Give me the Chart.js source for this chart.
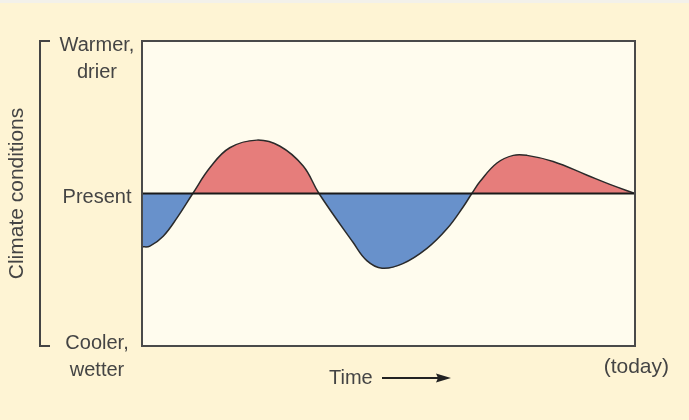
<!DOCTYPE html>
<html>
<head>
<meta charset="utf-8">
<script src="https://cdn.jsdelivr.net/npm/chart.js@4"></script>
<style>
  body { margin: 0; background: #fef4d4; }
  canvas { display: block; }
</style>
</head>
<body>
<canvas id="myChart" width="689" height="420"></canvas>
<script>
// time runs 0 -> 100 (today), climate -1 (cooler, wetter) -> 1 (warmer, drier)
const timeValues = [0, 1.6, 4.3, 7.1, 10.3, 13.8, 17.8, 23.3, 28.0, 32.7, 35.9,
  42.8, 45.6, 48.7, 52.9, 57.8, 61.9, 65.1, 66.9,
  68.6, 72.0, 75.3, 78.1, 83.4, 90.3, 94.9, 100];
const climateValues = [-0.35, -0.345, -0.28, -0.16, 0, 0.17, 0.30, 0.35, 0.31, 0.18, 0,
  -0.32, -0.44, -0.49, -0.46, -0.36, -0.23, -0.09, 0,
  0.08, 0.20, 0.25, 0.25, 0.21, 0.12, 0.06, 0];

const yTickValues = [1, 0, -1];
const yTickLabels = [["Warmer,", "drier"], ["Present"], ["Cooler,", "wetter"]];
const yAxisTitle = "Climate conditions";
const xAxisTitle = "Time";
const xEndLabel = "(today)";

const curve = timeValues.map((t, i) => ({x: t, y: climateValues[i]}));
const presentLine = [{x: timeValues[0], y: 0}, {x: timeValues[timeValues.length - 1], y: 0}];

const FONT = '"Liberation Sans", Helvetica, Arial, sans-serif';
const TEXT = '#444';

// backgrounds, frame and all the text round the plot
const decor = {
  id: 'decor',
  beforeDraw(chart) {
    const ctx = chart.ctx, a = chart.chartArea;
    ctx.save();
    ctx.fillStyle = '#fef4d4';
    ctx.fillRect(0, 0, chart.width, chart.height);
    ctx.fillStyle = '#f3f1ea';
    ctx.fillRect(0, 0, chart.width, 3);
    ctx.fillStyle = '#fffcee';
    ctx.fillRect(a.left, a.top, a.right - a.left, a.bottom - a.top);
    ctx.restore();
  },
  afterDraw(chart) {
    const ctx = chart.ctx, a = chart.chartArea;
    const ys = chart.scales.y;
    ctx.save();
    // frame
    ctx.strokeStyle = '#4a4a4a';
    ctx.lineWidth = 2;
    ctx.strokeRect(a.left, a.top, a.right - a.left, a.bottom - a.top);

    // bracket on the left
    ctx.strokeStyle = '#444';
    ctx.lineWidth = 2;
    ctx.beginPath();
    ctx.moveTo(50, a.top);
    ctx.lineTo(40, a.top);
    ctx.lineTo(40, a.bottom);
    ctx.lineTo(50, a.bottom);
    ctx.stroke();

    ctx.fillStyle = TEXT;
    ctx.font = '20px ' + FONT;
    ctx.textAlign = 'center';
    ctx.textBaseline = 'alphabetic';
    // first-line offsets from the tick pixel
    const offs = [10, 9.5, 3];
    yTickValues.forEach((v, i) => {
      const py = ys.getPixelForValue(v);
      yTickLabels[i].forEach((line, j) => {
        ctx.fillText(line, 97, py + offs[i] + j * 27);
      });
    });

    // rotated axis title
    ctx.save();
    ctx.translate(23, (a.top + a.bottom) / 2);
    ctx.rotate(-Math.PI / 2);
    ctx.font = '21px ' + FONT;
    ctx.fillText(yAxisTitle, 0, 0);
    ctx.restore();

    // time label with arrow
    ctx.textAlign = 'left';
    ctx.fillText(xAxisTitle, 329, 384);
    ctx.strokeStyle = '#222';
    ctx.lineWidth = 2;
    ctx.beginPath();
    ctx.moveTo(382, 378);
    ctx.lineTo(440, 378);
    ctx.stroke();
    ctx.fillStyle = '#222';
    ctx.beginPath();
    ctx.moveTo(451, 378);
    ctx.lineTo(436, 373.5);
    ctx.lineTo(438, 378);
    ctx.lineTo(436, 382.5);
    ctx.closePath();
    ctx.fill();

    ctx.fillStyle = TEXT;
    ctx.font = '21px ' + FONT;
    ctx.textAlign = 'right';
    ctx.fillText(xEndLabel, 669, 373);
    ctx.restore();
  }
};

new Chart("myChart", {
  type: "line",
  data: {
    datasets: [{
      data: presentLine,
      borderColor: "#1a1a1a",
      borderWidth: 2,
      pointRadius: 0,
      fill: false,
      order: 0
    }, {
      data: curve,
      borderColor: "#2a2a2a",
      borderWidth: 1.5,
      pointRadius: 0,
      tension: 0.4,
      fill: {target: {value: 0}, above: "#e67d7b", below: "#6891cb"},
      order: 1
    }]
  },
  options: {
    responsive: false,
    animation: false,
    layout: {padding: {left: 142, right: 54, top: 41, bottom: 74}},
    plugins: {
      legend: {display: false},
      tooltip: {enabled: false}
    },
    scales: {
      x: {type: "linear", min: 0, max: 100, display: false},
      y: {min: -1, max: 1, display: false}
    }
  },
  plugins: [decor]
});
</script>
</body>
</html>
